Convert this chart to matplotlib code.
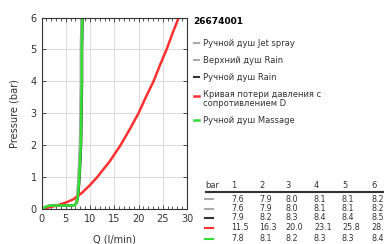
import matplotlib
matplotlib.use("Agg")
import matplotlib.pyplot as plt
from matplotlib.lines import Line2D
from matplotlib.ticker import MultipleLocator

plt.rcParams['font.family'] = ['DejaVu Sans']

# Series data (Q in l/min, P in bar)
p_shower = [0.0, 0.05, 0.1, 0.11, 0.11, 0.12, 0.2, 0.4, 1.0, 2.0, 3.0, 4.0, 5.0, 6.0]
q_jet = [0.0, 0.6, 1.5, 3.0, 6.0, 6.8, 7.1, 7.35, 7.6, 7.9, 8.0, 8.1, 8.1, 8.2]
q_top_rain = [0.0, 0.6, 1.5, 3.0, 6.0, 6.8, 7.1, 7.35, 7.6, 7.9, 8.0, 8.1, 8.1, 8.2]
q_rain = [0.0, 0.6, 1.5, 3.0, 6.0, 6.9, 7.3, 7.6, 7.9, 8.2, 8.3, 8.4, 8.4, 8.5]
q_massage = [0.0, 0.6, 1.5, 3.0, 6.0, 6.9, 7.2, 7.5, 7.8, 8.1, 8.2, 8.3, 8.3, 8.4]
p_red = [0.0, 0.05, 0.1, 0.2, 0.3, 0.5, 0.75, 1.0, 1.5, 2.0, 2.5, 3.0, 3.5, 4.0, 4.5, 5.0, 5.5, 6.0]
q_red = [0.0, 1.5, 3.0, 5.0, 6.5, 8.3, 10.0, 11.5, 14.1, 16.3, 18.2, 20.0, 21.5, 23.1, 24.4, 25.8, 27.0, 28.3]

labels = ["Ручной душ Jet spray", "Верхний душ Rain", "Ручной душ Rain",
          "Кривая потери давления с\nсопротивлением D", "Ручной душ Massage"]
colors = ["#aaaaaa", "#aaaaaa", "#333333", "#ff3030", "#33dd33"]
title = "26674001"

table_cols = ["bar", "1", "2", "3", "4", "5", "6"]
table_rows = [
    ["7.6", "7.9", "8.0", "8.1", "8.1", "8.2"],
    ["7.6", "7.9", "8.0", "8.1", "8.1", "8.2"],
    ["7.9", "8.2", "8.3", "8.4", "8.4", "8.5"],
    ["11.5", "16.3", "20.0", "23.1", "25.8", "28.3"],
    ["7.8", "8.1", "8.2", "8.3", "8.3", "8.4"],
]

W, H = 384, 244
fig = plt.figure(figsize=(W / 100, H / 100), dpi=100)
ax = fig.add_axes([41.5 / W, 1 - 209 / H, (187 - 41.5) / W, (209 - 17.5) / H])

series = [q_jet, q_top_rain, q_rain, None, q_massage]
lws = [1.5, 1.5, 1.5, 1.8, 1.8]
handles = []
for i, lab in enumerate(labels):
    if i == 3:
        h, = ax.plot(q_red, p_red, color=colors[i], lw=lws[i], label=lab)
    else:
        h, = ax.plot(series[i], p_shower, color=colors[i], lw=lws[i], label=lab)
    handles.append(h)

ax.set_xlim(0, 30)
ax.set_ylim(0, 6)
ax.xaxis.set_major_locator(MultipleLocator(5))
ax.xaxis.set_minor_locator(MultipleLocator(1))
ax.yaxis.set_major_locator(MultipleLocator(1))
ax.grid(True, which='major', color='#dddddd', lw=0.8)
ax.set_axisbelow(True)
ax.tick_params(which='both', direction='in', top=True, right=True, labelsize=7, colors='#333333')
ax.tick_params(which='major', length=3, width=0.6)
ax.tick_params(which='minor', length=2, width=0.6)
for s in ax.spines.values():
    s.set_linewidth(0.8)
    s.set_color('#333333')
ax.set_xlabel("Q (l/min)", fontsize=7, color='#333333', labelpad=8)
ax.set_ylabel("Pressure (bar)", fontsize=7, color='#333333', labelpad=8)

leg = fig.legend(handles=handles, labels=labels, loc='upper left',
                 bbox_to_anchor=(186 / W, 1 - 9 / H), frameon=False,
                 fontsize=6.0, handlelength=0.7, handletextpad=0.4,
                 labelspacing=0.95, title=title,
                 title_fontproperties={'weight': 'bold', 'size': 6.5})
leg._legend_box.align = "left"
leg._legend_box.sep = 10
for t in leg.get_texts():
    t.set_color('#333333')
    t.set_linespacing(0.95)
# align the two-line entry's marker with its first line
red_h = leg.legend_handles[3]
red_h.set_ydata([v + 2.8 for v in red_h.get_ydata()])

# table
col_x = [205, 231, 259, 285, 314, 342, 371]
hy = 186
for x, c in zip(col_x, table_cols):
    fig.text(x / W, 1 - hy / H, c, fontsize=6, color='#333333', va='center', ha='left')
fig.add_artist(Line2D([205 / W, 1.0], [1 - 190.5 / H] * 2, color='#333333', lw=0.8))
fig.add_artist(Line2D([205 / W, 1.0], [1 - 192 / H] * 2, color='#333333', lw=0.8))
row_y = [199, 208.5, 218, 228, 238.5]
for r, (vals, y) in enumerate(zip(table_rows, row_y)):
    fig.add_artist(Line2D([205 / W, 213 / W], [1 - y / H] * 2, color=colors[r], lw=1.5))
    for x, v in zip(col_x[1:], vals):
        fig.text(x / W, 1 - y / H, v, fontsize=5.8, color='#333333', va='center', ha='left')

fig.savefig("out.png", dpi=100)
